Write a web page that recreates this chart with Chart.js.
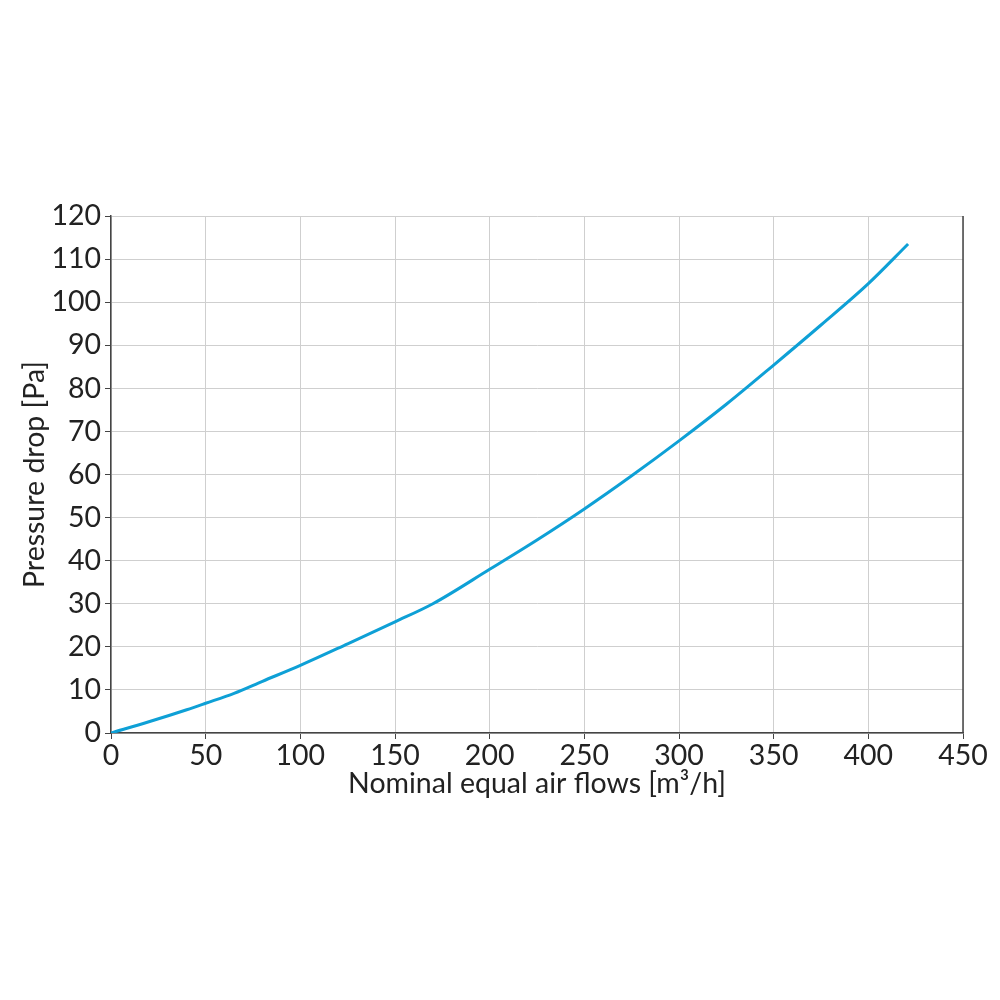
<!DOCTYPE html>
<html>
<head>
<meta charset="utf-8">
<script src="https://cdn.jsdelivr.net/npm/chart.js@4.4.1/dist/chart.umd.min.js"></script>
<style>
  html, body { margin: 0; padding: 0; background: #fff; }
  .wrap { width: 1000px; height: 1000px; position: relative; }
</style>
</head>
<body>
<div class="wrap"><canvas class="chart"></canvas></div>
<script>
// air flow [m3/h] and pressure drop [Pa]
const airFlows = [0, 20, 40, 50, 65, 80, 100, 125, 150, 170, 200, 225, 250, 275, 300, 325, 350, 375, 400, 421];
const pressureDrops = [0, 2.6, 5.4, 6.9, 9.2, 12, 15.7, 20.7, 25.8, 30, 38, 44.8, 52, 59.7, 67.8, 76.3, 85.4, 94.7, 104.3, 113.5];

const xTitle = 'Nominal equal air flows [m³/h]';
const yTitle = 'Pressure drop [Pa]';

document.addEventListener('DOMContentLoaded', function () {
    const canvas = document.querySelector('.chart');
    const points = airFlows.map((f, i) => ({ x: f, y: pressureDrops[i] }));

    // right frame line, the reference has a dark border on that side
    const rightBorder = {
        id: 'rightBorder',
        afterDraw(chart) {
            const ctx = chart.ctx, a = chart.chartArea;
            ctx.save();
            ctx.strokeStyle = '#444';
            ctx.lineWidth = 1.5;
            ctx.beginPath();
            ctx.moveTo(a.right, a.top);
            ctx.lineTo(a.right, a.bottom);
            ctx.stroke();
            ctx.restore();
        }
    };

    const font = { family: 'Lato', size: 28.5 };

    new Chart(canvas.getContext('2d'), {
        type: 'line',
        data: {
            datasets: [{
                data: points,
                borderColor: '#0ea0d6',
                borderWidth: 3,
                pointRadius: 0,
                fill: false,
                cubicInterpolationMode: 'monotone'
            }]
        },
        options: {
            responsive: true,
            maintainAspectRatio: false,
            animation: false,
            layout: { padding: { left: 16, top: 216, right: 37, bottom: 195 } },
            plugins: {
                legend: { display: false },
                tooltip: { enabled: false }
            },
            scales: {
                x: {
                    type: 'linear',
                    min: 0,
                    max: 450,
                    ticks: { stepSize: 50, color: '#222', padding: 0, font: font },
                    grid: { color: '#cfcfcf', tickColor: '#444', tickLength: 6 },
                    border: { color: '#444', width: 1.5 },
                    title: { display: true, text: xTitle, color: '#222', padding: { top: 0, bottom: 4 }, font: font },
                    afterFit(scale) { scale.height = 72; }
                },
                y: {
                    min: 0,
                    max: 120,
                    ticks: { stepSize: 10, color: '#222', padding: 4, font: font },
                    grid: { color: '#cfcfcf', tickColor: '#444', tickLength: 6 },
                    border: { color: '#444', width: 1.5 },
                    title: { display: true, text: yTitle, color: '#222', padding: { top: 2, bottom: 0 }, font: font },
                    afterFit(scale) { scale.width = 95; }
                }
            }
        },
        plugins: [rightBorder]
    });
});
</script>
</body>
</html>
